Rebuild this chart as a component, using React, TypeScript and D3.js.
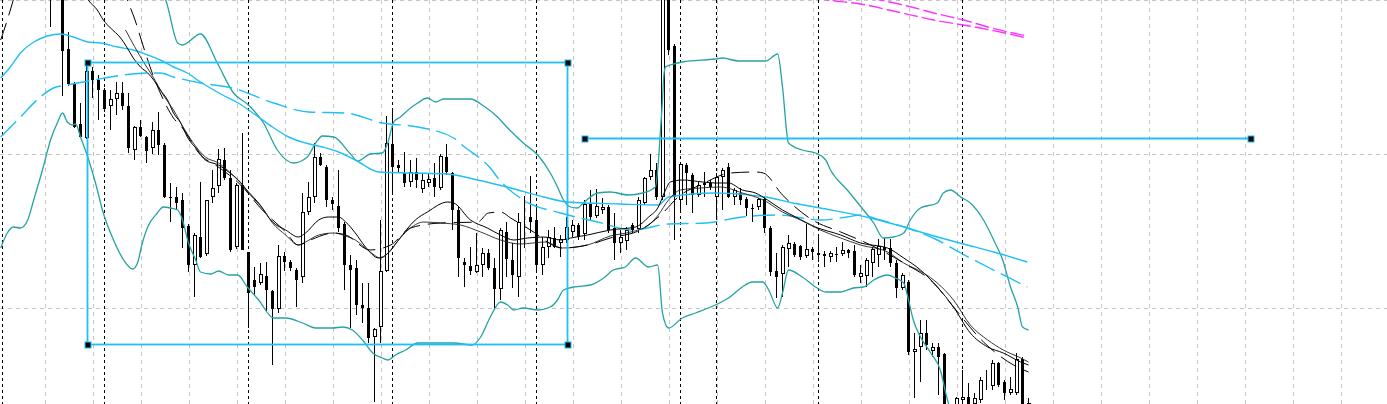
import React from 'react';
import * as d3 from 'd3';

// ---------- data (bar index, prices in points) ----------
const FIRST_BAR = 8;
const opens = [1015,1040,1005,951,916,876,862,929,920,910,894,901,907,894,850,873,863,852,870,855,803,803,800,774,735,763,746,803,814,840,822,753,815,748,720,717,724,709,691,744,738,730,723,788,803,843,833,800,794,776,735,732,695,692,663,673,729,856,835,827,818,828,811,817,822,812,843,827,790,738,734,728,735,747,732,711,768,740,723,781,783,780,735,753,762,757,760,768,775,766,796,784,790,793,772,757,759,775,771,797,823,830,803,1020,954,800,835,825,805,817,817,803,823,833,803,807,801,792,793,801,772,729,726,751,756,754,744,751,747,746,743,746,746,750,749,723,724,737,745,753,752,737,712,718,648,653,667,649,653,646,585,590,600,603,596,600,614,614,637,618,607,607,641,595];
const highs = [1030,1050,1010,968,918,897,934,933,925,912,910,918,918,907,874,880,864,878,888,857,817,813,807,776,767,818,800,830,851,852,830,817,867,748,733,737,738,710,755,748,740,732,807,818,857,847,835,803,830,778,745,740,717,717,672,780,884,892,840,848,840,842,827,827,837,846,856,828,793,742,753,767,752,751,742,772,778,757,787,804,824,796,763,770,773,765,783,780,777,800,810,811,802,795,787,770,773,777,803,823,846,837,1030,1030,956,837,837,827,818,828,820,827,832,837,812,812,803,796,802,803,774,747,755,765,758,755,776,753,765,749,749,753,758,751,755,735,742,753,761,762,761,740,727,720,667,680,680,657,657,647,593,603,630,617,607,623,630,640,638,620,623,647,643,602];
const lows = [973,1010,904,914,872,862,861,902,880,888,870,885,890,847,840,863,837,846,845,802,778,790,752,728,703,742,744,797,807,820,748,751,750,672,705,715,688,635,687,729,729,693,717,785,797,834,793,790,768,710,672,685,677,657,598,657,728,808,828,813,813,812,807,813,803,810,825,770,723,713,725,727,723,730,690,700,723,712,703,752,767,727,725,742,752,743,757,763,760,760,780,782,786,767,740,747,750,767,767,795,820,800,800,945,760,790,795,787,803,803,810,780,790,802,795,795,784,778,790,767,724,702,703,733,743,740,742,740,738,733,738,738,744,742,723,717,713,723,733,740,733,702,710,645,602,618,650,643,605,585,575,588,590,590,590,597,610,610,613,600,605,605,585,588];
const closes = [1005,1020,949,916,873,863,929,920,910,891,901,907,894,852,873,864,849,870,855,803,802,797,772,735,765,743,800,812,841,822,750,815,750,707,713,726,710,691,744,738,732,720,788,803,843,835,800,796,772,735,730,695,692,662,671,729,857,833,832,817,828,820,820,821,813,844,828,790,742,735,729,735,747,732,711,770,741,725,778,782,778,735,753,763,753,761,773,775,763,796,783,794,793,770,757,763,770,770,800,822,830,803,1020,950,803,836,827,805,815,815,813,823,830,803,810,800,792,791,801,772,728,723,753,757,745,743,751,748,745,744,747,745,750,747,725,727,740,751,754,750,737,712,725,648,651,667,655,653,643,590,580,602,603,595,602,620,615,637,615,607,611,641,590,597];

// Bollinger-type bands (teal)
const upperBand: [number, number][] = [[19.7,1050],[26.3,1010],[27.2,1000],[29.2,957],[30,955],[33,966],[35.8,937],[38.5,907],[41,895],[43.5,877],[45.8,850],[48.5,837],[50.8,843],[52.2,857],[53.3,864],[55.2,863],[58,846],[59.2,839],[61.3,846],[63.3,847],[64.2,857],[65.2,878],[66.3,883],[68,892],[69.2,897],[70.8,902],[72.2,898],[73.5,901],[78,901],[80.2,894],[82.5,883],[84.2,872],[86.8,857],[89.2,845],[91.3,827],[92.5,813],[93.5,800],[94.7,793],[95.8,792],[96.8,797],[99.2,807],[101.3,808],[104.3,805],[106.7,807],[108.8,813],[109.3,837],[109.7,873],[110,900],[110.2,923],[110.5,933],[111.3,935],[113.3,938],[118.8,941],[120,942],[122.7,939],[127.2,939],[129.2,946],[130,913],[131,857],[133.3,850],[135.5,847],[137.2,840],[138,830],[140.8,810],[143.5,790],[145.2,777],[146.8,762],[148.5,763],[150.2,767],[151.3,780],[153,792],[155.8,797],[156.8,807],[158,810],[159.7,803],[161.3,797],[163.5,780],[165.2,760],[166.7,740],[168,713],[169.2,693],[170,673],[171,670]];
const lowerBand: [number, number][] = [[-0.3,752],[0.8,767],[1.8,773],[3,772],[4.2,780],[5.2,800],[6.8,833],[8,860],[9.2,878],[10,887],[10.8,878],[11.7,875],[12.2,876],[13,863],[14.2,843],[15.5,817],[16.8,787],[18.5,760],[20.2,740],[21.7,731],[22.5,737],[23.3,757],[24.2,773],[25.8,787],[26.8,793],[28,792],[29.2,790],[30,780],[31,757],[32.2,740],[33,728],[34.7,726],[36,729],[37.7,725],[39.2,725],[40.8,713],[42.7,700],[45.2,682],[47.2,682],[50,677],[52.2,672],[55,672],[56.7,673],[58.3,670],[60,660],[61.7,647],[63.3,642],[64.2,640],[65.5,645],[67.2,650],[69.2,657],[75.2,657],[78.3,655],[79.7,663],[81.3,683],[83,698],[84.2,695],[85.2,690],[86.8,692],[89.2,690],[91.3,693],[92.5,700],[93.5,710],[95.2,713],[98,715],[100.2,722],[101.8,730],[103.8,733],[105.5,742],[107.7,733],[109.2,735],[110,687],[111,672],[113.3,682],[115.5,687],[118.8,695],[121,702],[123.3,713],[125,718],[126.7,718],[127.7,710],[129.2,692],[130,707],[131,730],[133.3,723],[135.5,713],[137.2,708],[139.7,708],[141.8,712],[143.5,713],[145.2,720],[147.5,725],[148.8,722],[150.2,717],[151,700],[151.8,680],[153,663],[154.7,647],[156.3,630],[157.5,600],[158.8,580],[171,530]];

// moving averages (cyan)
const cyanSlow: [number, number][] = [[-0.3,922],[1.3,933],[3,947],[5.2,958],[7.5,964],[9.7,966],[11.8,963],[14.2,958],[16.3,957],[19.2,953],[21.8,950],[24.2,945],[26.3,940],[28.5,933],[30.8,927],[33,918],[36.7,905],[39.3,897],[42.2,885],[45,873],[47.7,863],[50.5,857],[53.3,853],[56,848],[58.8,840],[62.7,828],[68,827],[74.2,826],[79.2,820],[84.7,812],[90.2,803],[94.2,798],[103,796],[109.3,795],[111,803],[118.8,807],[127.2,803],[131.7,797],[136.3,792],[144.7,782],[150.2,773],[155.8,763],[160.8,755],[165.2,748],[170.8,738]];
const cyanDashed: [number, number][] = [[-0.3,863],[3,883],[6.3,903],[8.5,912],[10.8,915],[15.2,920],[20.2,925],[24.2,927],[26.3,927],[28.5,923],[33,917],[38.3,912],[45.2,897],[51,888],[57.2,887],[63.3,877],[69.2,873],[75.2,862],[76.8,854],[81.3,832],[82.7,821],[86.8,800],[93,787],[99.2,778],[105,770],[111,776],[117.2,777],[123.3,783],[129.3,785],[136.3,780],[140.8,783],[143,785],[146.3,780],[150.8,772],[155.8,760],[159.7,747],[164.2,733],[170.8,713]];

// moving averages (black)
const blackFast: [number, number][] = [[13,1015],[14.3,1000],[15.8,990],[16.8,980],[18,972],[19.7,962],[20.8,952],[21.8,942],[23,933],[24.2,927],[25.2,920],[26.3,910],[27.5,900],[28.5,887],[29.7,877],[30.8,863],[32.5,850],[33.8,840],[36,835],[37.7,828],[39.3,820],[41,808],[42.7,797],[45,778],[47.2,770],[49.3,763],[50.5,767],[52.7,780],[54.3,783],[56,783],[57.2,778],[58.8,767],[60.5,753],[62.7,742],[64.3,747],[66,760],[68.8,780],[70.8,788],[74.2,798],[75.2,797],[78,780],[80.8,772],[83,765],[85.2,760],[87.5,762],[90.2,763],[93,760],[94.7,762],[97.5,765],[101.3,770],[105.5,773],[107.7,783],[109.3,793],[110.5,810],[111.3,818],[113.3,820],[116.7,818],[118.8,817],[121,817],[123.3,810],[125.5,807],[127.5,800],[130,790],[132.2,783],[135.5,773],[139.7,765],[143,757],[147.5,752],[150.2,742],[153,730],[155.8,713],[158.5,693],[161.3,667],[164.2,653],[166.8,647],[169.7,638],[171,635]];
const blackMid: [number, number][] = [[20.5,970],[23.5,938],[25.2,922],[26.8,905],[28.5,890],[30.2,872],[31.8,857],[33.8,843],[36,837],[38,827],[39.7,817],[41.3,805],[43.3,792],[45,777],[47.2,765],[49.3,755],[50.5,758],[52.7,765],[55.2,767],[57.2,764],[58.8,760],[61.3,748],[63,742],[64.7,750],[66.3,762],[68,772],[70.2,778],[73,777],[76.3,775],[79.7,768],[83,760],[86.3,756],[90.5,758],[93.3,752],[97.5,755],[101.3,764],[104.7,768],[107.7,775],[109.3,785],[111,800],[113,810],[116.3,812],[119.7,813],[123.3,807],[126.8,800],[130,788],[133,780],[136.3,770],[139.7,762],[143,755],[147.5,748],[150.2,737],[153.5,727],[155.8,717],[158.5,700],[161.3,675],[164.2,660],[166.8,650],[169.7,642],[171,638]];
const blackSlowDashed: [number, number][] = [[-0.3,960],[0.8,980],[1.8,1000],[3.8,1040],[9.7,1080],[16.3,1060],[19.7,1015],[20.8,1000],[22.2,978],[23.5,953],[25.2,923],[26.3,907],[28.5,882],[30,872],[33,845],[35.5,835],[39.7,815],[43.3,790],[47.2,768],[49.3,755],[51.3,760],[55.2,767],[57.2,765],[61.3,750],[64.7,755],[68,772],[73,777],[79.2,778],[81,787],[83,788],[84.7,782],[88,770],[93.3,752],[97.5,755],[101.3,762],[106.3,770],[109.7,785],[113,805],[116.3,815],[121.3,827],[125.5,828],[126.8,827],[130,805],[135,780],[139.7,768],[144.7,755],[150.2,737],[155.2,717],[158.5,693],[163.5,658],[168.5,635],[171,628]];

// magenta lines (top right)
const magentaA: [number, number][] = [[135.5,1002],[137.5,1000],[143,996],[149.2,988],[155.2,980],[163,972],[170.8,962]];
const magentaB: [number, number][] = [[144.7,1002],[146.3,1000],[150.8,994],[155.2,987],[160.2,980],[164.2,973],[170.8,964]];

// chart objects
const rectLeftBar = 14.17, rectRightBar = 94.17, rectTopPrice = 938, rectBottomPrice = 656;
const hLineStartBar = 97, hLineEndBar = 208, hLinePrice = 862;

// grid & separators
const gridPrices = [1000, 846, 692];
const gridFirstBar = 7, gridStepBars = 8;
const separatorBars = [0, 17, 41, 65, 89, 113, 119, 136, 160];

const W = 1387;
const H = 404;
const CYAN = '#1ec0f5';
const TEAL = '#25a3a3';
const MAGENTA = '#ff33ff';

export default function App() {
  const x = d3.scaleLinear().domain([0, 1]).range([2.5, 8.5]);
  const y = d3.scaleLinear().domain([596, 1000]).range([H, 0]);

  const line = d3.line<[number, number]>()
    .x(d => x(d[0]))
    .y(d => y(d[1]))
    .curve(d3.curveMonotoneX);

  const gridXs = d3.range(-1, 30).map(k => x(gridFirstBar + gridStepBars * k) + 1);

  const bars = opens.map((o, k) => ({ i: FIRST_BAR + k, o, h: highs[k], l: lows[k], c: closes[k] }));

  const handle = (cx: number, cy: number, key: string) => (
    <rect key={key} x={Math.round(cx) - 3} y={Math.round(cy) - 3} width={6} height={6}
      fill="#000" stroke={CYAN} strokeWidth={1} />
  );

  const rx1 = x(rectLeftBar), rx2 = x(rectRightBar);
  const ry1 = Math.round(y(rectTopPrice)) + 0.5, ry2 = Math.round(y(rectBottomPrice)) + 0.5;
  const hx1 = x(hLineStartBar), hx2 = x(hLineEndBar), hy = Math.round(y(hLinePrice)) + 0.5;

  return (
    <div style={{ position: 'absolute', left: 0, top: 0, width: W, height: H, background: '#fff' }}>
      <svg width={W} height={H} viewBox={`0 0 ${W} ${H}`} style={{ display: 'block' }}>
        <rect x={0} y={0} width={W} height={H} fill="#fff" />
        {/* grid */}
        <g stroke="#c4c4c4" strokeWidth={1} strokeDasharray="4,4" shapeRendering="crispEdges">
          {gridXs.map((gx, k) => (
            <line key={'gv' + k} x1={Math.floor(gx) + 0.5} x2={Math.floor(gx) + 0.5} y1={0} y2={H} />
          ))}
          {gridPrices.map((p, k) => (
            <line key={'gh' + k} x1={0} x2={W} y1={Math.round(y(p)) + 0.5} y2={Math.round(y(p)) + 0.5} />
          ))}
        </g>
        {/* period separators */}
        <g stroke="#000" strokeWidth={1.2} strokeDasharray="3,3" shapeRendering="crispEdges">
          {separatorBars.map((b, k) => (
            <line key={'sep' + k} x1={x(b)} x2={x(b)} y1={0} y2={H} />
          ))}
        </g>
        {/* candles */}
        <g shapeRendering="crispEdges">
          {bars.map(b => {
            const cx = x(b.i);
            const top = Math.round(y(Math.max(b.o, b.c)));
            const bot = Math.round(y(Math.min(b.o, b.c)));
            const hgt = Math.max(1, bot - top);
            const bull = b.c > b.o;
            return (
              <g key={'bar' + b.i}>
                <line x1={cx} x2={cx} y1={y(b.h)} y2={y(b.l)} stroke="#000" strokeWidth={1} />
                {bull ? (
                  <rect x={cx - 1} y={top + 0.5} width={3} height={Math.max(0, hgt - 1)}
                    fill="#fff" stroke="#000" strokeWidth={1} />
                ) : (
                  <rect x={cx - 1.5} y={top} width={3} height={hgt} fill="#000" />
                )}
              </g>
            );
          })}
        </g>
        {/* indicators */}
        <g fill="none">
          <path d={line(upperBand) || ''} stroke={TEAL} strokeWidth={1.3} />
          <path d={line(lowerBand) || ''} stroke={TEAL} strokeWidth={1.3} />
          <path d={line(cyanSlow) || ''} stroke={CYAN} strokeWidth={1.4} />
          <path d={line(cyanDashed) || ''} stroke={CYAN} strokeWidth={1.4} strokeDasharray="22,7" />
          <path d={line(blackFast) || ''} stroke="#000" strokeWidth={1} />
          <path d={line(blackMid) || ''} stroke="#222" strokeWidth={0.9} />
          <path d={line(blackSlowDashed) || ''} stroke="#000" strokeWidth={1} strokeDasharray="18,8" />
          <path d={line(magentaA) || ''} stroke={MAGENTA} strokeWidth={1.4} strokeDasharray="14,4" />
          <path d={line(magentaB) || ''} stroke={MAGENTA} strokeWidth={1.4} strokeDasharray="14,4" />
        </g>
        {/* objects */}
        <g fill="none" stroke={CYAN} strokeWidth={1.8}>
          <rect x={rx1} y={ry1} width={rx2 - rx1} height={ry2 - ry1} />
          <line x1={hx1} x2={hx2} y1={hy} y2={hy} />
        </g>
        <g>
          {handle(rx1, ry1, 'h1')}
          {handle(rx2, ry1, 'h2')}
          {handle(rx1, ry2, 'h3')}
          {handle(rx2, ry2, 'h4')}
          {handle(hx1, hy, 'h5')}
          {handle(hx2, hy, 'h6')}
        </g>
      </svg>
    </div>
  );
}
